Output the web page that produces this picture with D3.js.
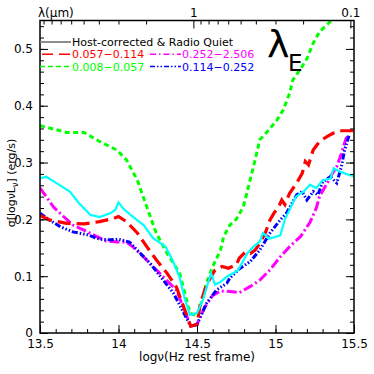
<!DOCTYPE html>
<html>
<head>
<meta charset="utf-8">
<script src="https://cdn.jsdelivr.net/npm/d3@7"></script>
<style>
  body { margin: 0; background: #fff; }
  #chart { width: 374px; height: 374px; }
  text { font-family: "DejaVu Sans", sans-serif; }
</style>
</head>
<body>
<div id="chart"></div>
<script>
// values (log nu, sigma)
var nuHost = [13.5, 13.54, 13.61, 13.69, 13.75, 13.82, 13.88, 13.95, 13.98, 14.0, 14.03, 14.09, 14.16, 14.22, 14.3, 14.35, 14.39, 14.42, 14.455, 14.5, 14.54, 14.57, 14.59, 14.615, 14.65, 14.69, 14.76, 14.82, 14.86, 14.9, 14.92, 14.96, 15.03, 15.06, 15.09, 15.13, 15.18, 15.22, 15.26, 15.3, 15.35, 15.37, 15.41, 15.47, 15.5];
var sigHost = [0.272, 0.275, 0.263, 0.249, 0.228, 0.208, 0.204, 0.211, 0.217, 0.230, 0.219, 0.205, 0.190, 0.167, 0.152, 0.125, 0.097, 0.062, 0.032, 0.035, 0.06, 0.088, 0.105, 0.085, 0.09, 0.099, 0.11, 0.14, 0.152, 0.161, 0.176, 0.166, 0.172, 0.2, 0.217, 0.24, 0.249, 0.261, 0.255, 0.269, 0.272, 0.29, 0.284, 0.278, 0.276];

var nuLow = [13.5, 13.67, 13.78, 13.88, 13.99, 14.05, 14.12, 14.18, 14.24, 14.31, 14.39, 14.455, 14.5, 14.54, 14.56, 14.6, 14.65, 14.67, 14.71, 14.75, 14.795, 14.83, 14.86, 14.9, 14.94, 15.01, 15.05, 15.09, 15.11, 15.16, 15.2, 15.24, 15.28, 15.36];
var sigLow = [0.365, 0.353, 0.353, 0.337, 0.322, 0.305, 0.269, 0.222, 0.176, 0.140, 0.105, 0.035, 0.03, 0.064, 0.0875, 0.117, 0.146, 0.17, 0.19, 0.2, 0.222, 0.26, 0.293, 0.34, 0.352, 0.375, 0.393, 0.422, 0.445, 0.465, 0.483, 0.51, 0.53, 0.551];

var nuMid = [13.5, 13.56, 13.67, 13.78, 13.88, 13.97, 14.0, 14.05, 14.12, 14.18, 14.24, 14.31, 14.37, 14.46, 14.5, 14.52, 14.56, 14.615, 14.66, 14.7, 14.75, 14.77, 14.81, 14.84, 14.87, 14.9, 14.935, 14.965, 14.99, 15.02, 15.04, 15.06, 15.09, 15.135, 15.17, 15.19, 15.21, 15.24, 15.28, 15.33, 15.37, 15.41, 15.47, 15.5];
var sigMid = [0.207, 0.199, 0.193, 0.192, 0.196, 0.202, 0.205, 0.196, 0.176, 0.152, 0.129, 0.105, 0.08, 0.012, 0.015, 0.05, 0.085, 0.111, 0.117, 0.114, 0.12, 0.132, 0.143, 0.14, 0.146, 0.158, 0.176, 0.199, 0.211, 0.222, 0.234, 0.226, 0.246, 0.264, 0.281, 0.302, 0.296, 0.322, 0.337, 0.346, 0.352, 0.356, 0.356, 0.356];

var nuHigh = [13.5, 13.54, 13.585, 13.65, 13.71, 13.78, 13.86, 13.92, 13.99, 14.05, 14.09, 14.16, 14.22, 14.285, 14.37, 14.46, 14.5, 14.55, 14.6, 14.65, 14.71, 14.77, 14.84, 14.9, 14.965, 15.03, 15.09, 15.16, 15.22, 15.26, 15.28, 15.33, 15.35, 15.39, 15.42, 15.45, 15.47];
var sigHigh = [0.255, 0.24, 0.222, 0.205, 0.19, 0.181, 0.17, 0.162, 0.16, 0.16, 0.152, 0.134, 0.117, 0.099, 0.075, 0.012, 0.015, 0.046, 0.066, 0.074, 0.073, 0.071, 0.082, 0.093, 0.111, 0.134, 0.152, 0.17, 0.195, 0.22, 0.24, 0.264, 0.275, 0.293, 0.316, 0.343, 0.348];

var nuUpper = [13.5, 13.56, 13.63, 13.71, 13.8, 13.88, 13.95, 14.0, 14.07, 14.14, 14.2, 14.26, 14.35, 14.46, 14.5, 14.56, 14.625, 14.69, 14.71, 14.77, 14.84, 14.9, 14.965, 15.03, 15.07, 15.135, 15.17, 15.2, 15.24, 15.27, 15.3, 15.35, 15.39, 15.42, 15.44, 15.47];
var sigUpper = [0.211, 0.199, 0.187, 0.178, 0.173, 0.165, 0.164, 0.165, 0.16, 0.14, 0.123, 0.102, 0.07, 0.012, 0.015, 0.052, 0.076, 0.0875, 0.097, 0.113, 0.126, 0.146, 0.176, 0.199, 0.211, 0.243, 0.249, 0.234, 0.249, 0.243, 0.266, 0.275, 0.264, 0.293, 0.322, 0.349];

// legend labels
var legendLabels = ["Host-corrected & Radio Quiet", "0.057\u22120.114", "0.008\u22120.057", "0.252\u22122.506", "0.114\u22120.252"];

// tick labels
var xTicks = [13.5, 14, 14.5, 15, 15.5];
var yTicks = [0, 0.1, 0.2, 0.3, 0.4, 0.5];
var yTickLabels = ["0", "0.1", "0.2", "0.3", "0.4", "0.5"];
var lamTicks = [1, 0.1];
var lamMinor = [9, 8, 7, 6, 5, 4, 3, 2, 0.9, 0.8, 0.7, 0.6, 0.5, 0.4, 0.3, 0.2];

var W = 374, H = 374;
var pLeft = 40, pRight = 354, pTop = 20.5, pBottom = 333;

var svg = d3.select("#chart")
  .append("svg")
  .attr("width", W)
  .attr("height", H);

var x = d3.scaleLinear().domain([13.5, 15.5]).range([pLeft, pRight]);
var y = d3.scaleLinear().domain([0, 0.55]).range([pBottom, pTop]);

// wavelength in micron from nu: lambda = c / nu
var cMicron = 2.998e14;
var lam = d3.scaleLog()
  .domain([cMicron / Math.pow(10, 13.5), cMicron / Math.pow(10, 15.5)])
  .range([pLeft, pRight]);

svg.append("clipPath").attr("id", "clip")
  .append("rect")
  .attr("x", pLeft).attr("y", pTop)
  .attr("width", pRight - pLeft).attr("height", pBottom - pTop);

// series
var series = [
  { nu: nuLow, sig: sigLow, color: "#00ff00", dash: "5,3.5", width: 3 },
  { nu: nuHigh, sig: sigHigh, color: "#ff00ff", dash: "10,3,2,3", width: 3 },
  { nu: nuUpper, sig: sigUpper, color: "#0000ff", dash: "6,2,1.5,2,1.5,2,1.5,2", width: 3 },
  { nu: nuMid, sig: sigMid, color: "#ff0000", dash: "13,6", width: 3.2 },
  { nu: nuHost, sig: sigHost, color: "#00ffff", dash: null, width: 2.2 }
];

var line = d3.line()
  .x(function(d) { return x(d[0]); })
  .y(function(d) { return y(d[1]); });

var g = svg.append("g").attr("clip-path", "url(#clip)");

series.forEach(function(s) {
  g.append("path")
    .datum(d3.zip(s.nu, s.sig))
    .attr("d", line)
    .attr("fill", "none")
    .attr("stroke", s.color)
    .attr("stroke-width", s.width)
    .attr("stroke-dasharray", s.dash);
});

// axes (ticks drawn inside, PGPLOT style)
function styleAxis(sel) {
  sel.select(".domain").remove();
  sel.selectAll(".tick line").attr("stroke", "#000").attr("stroke-width", 1);
  sel.selectAll("text").attr("font-size", 12).attr("fill", "#000")
    .attr("font-family", "DejaVu Sans, sans-serif");
}

var minorX = d3.range(135, 156).map(function(d) { return d / 10; });
var minorY = d3.range(0, 28).map(function(d) { return d / 50; });

svg.append("g").attr("transform", "translate(0," + pBottom + ")")
  .call(d3.axisBottom(x).tickValues(minorX).tickSize(-4).tickFormat(""))
  .call(styleAxis);
svg.append("g").attr("transform", "translate(0," + pBottom + ")")
  .call(d3.axisBottom(x).tickValues(xTicks).tickSize(-8).tickPadding(6).tickFormat(d3.format("")))
  .call(styleAxis);

svg.append("g").attr("transform", "translate(0," + pTop + ")")
  .call(d3.axisTop(lam).tickValues(lamMinor).tickSize(-4).tickFormat(""))
  .call(styleAxis);
svg.append("g").attr("transform", "translate(0," + pTop + ")")
  .call(d3.axisTop(lam).tickValues(lamTicks).tickSize(-8).tickPadding(4)
    .tickFormat(function(d) { return d === 1 ? "1" : "0.1"; }))
  .call(styleAxis);

svg.append("g").attr("transform", "translate(" + pLeft + ",0)")
  .call(d3.axisLeft(y).tickValues(minorY).tickSize(-4).tickFormat(""))
  .call(styleAxis);
svg.append("g").attr("transform", "translate(" + pLeft + ",0)")
  .call(d3.axisLeft(y).tickValues(yTicks).tickSize(-8).tickPadding(7)
    .tickFormat(function(d, i) { return yTickLabels[i]; }))
  .call(styleAxis);

svg.append("g").attr("transform", "translate(" + pRight + ",0)")
  .call(d3.axisRight(y).tickValues(minorY).tickSize(-4).tickFormat(""))
  .call(styleAxis);
svg.append("g").attr("transform", "translate(" + pRight + ",0)")
  .call(d3.axisRight(y).tickValues(yTicks).tickSize(-8).tickFormat(""))
  .call(styleAxis);

svg.append("rect")
  .attr("x", pLeft).attr("y", pTop)
  .attr("width", pRight - pLeft).attr("height", pBottom - pTop)
  .attr("fill", "none").attr("stroke", "#000").attr("stroke-width", 1.5);

// axis titles
svg.append("text")
  .attr("x", 38).attr("y", 17)
  .attr("font-size", 12)
  .text("\u03bb(\u03bcm)");

svg.append("text")
  .attr("x", (pLeft + pRight) / 2).attr("y", 361)
  .attr("text-anchor", "middle")
  .attr("font-size", 12)
  .text("log\u03bd(Hz rest frame)");

var yl = svg.append("text")
  .attr("transform", "translate(15,183) rotate(-90)")
  .attr("text-anchor", "middle")
  .attr("font-size", 11);
yl.append("tspan").text("\u03c3[log\u03bdL");
yl.append("tspan").attr("font-size", 8).attr("dy", 3).text("\u03bd");
yl.append("tspan").attr("dy", -3).text("] (erg/s)");

// legend
var legendRows = [
  { label: legendLabels[0], color: "#808080", tcolor: "#000", dash: null, width: 1.8, x0: 40, y0: 42 },
  { label: legendLabels[1], color: "#ff0000", tcolor: "#ff0000", dash: "11,6", width: 1.5, x0: 42, y0: 54.3 },
  { label: legendLabels[2], color: "#00ff00", tcolor: "#00ff00", dash: "5,3", width: 1.5, x0: 40, y0: 66.5 },
  { label: legendLabels[3], color: "#ff00ff", tcolor: "#ff00ff", dash: "6,3,1.5,3", width: 1.5, x0: 150, y0: 54.3 },
  { label: legendLabels[4], color: "#0000ff", tcolor: "#0000ff", dash: "5,2,1.5,2,1.5,2", width: 1.5, x0: 150, y0: 66.5 }
];

legendRows.forEach(function(r) {
  svg.append("line")
    .attr("x1", r.x0).attr("x2", 71 + (r.x0 >= 150 ? 110 : 0))
    .attr("y1", r.y0).attr("y2", r.y0)
    .attr("stroke", r.color)
    .attr("stroke-width", r.width)
    .attr("stroke-dasharray", r.dash);
  svg.append("text")
    .attr("x", (r.x0 >= 150 ? 182 : 72)).attr("y", r.y0 + 4)
    .attr("font-family", "DejaVu Sans Mono, monospace")
    .attr("font-size", 11)
    .attr("fill", r.tcolor)
    .text(r.label);
});

// lambda_E tag
svg.append("text")
  .attr("x", 267).attr("y", 57)
  .attr("font-family", "Liberation Serif, serif")
  .attr("font-size", 38)
  .text("\u03bb");
svg.append("text")
  .attr("x", 288).attr("y", 71)
  .attr("font-family", "Liberation Serif, serif")
  .attr("font-size", 23)
  .text("E");
</script>
</body>
</html>
